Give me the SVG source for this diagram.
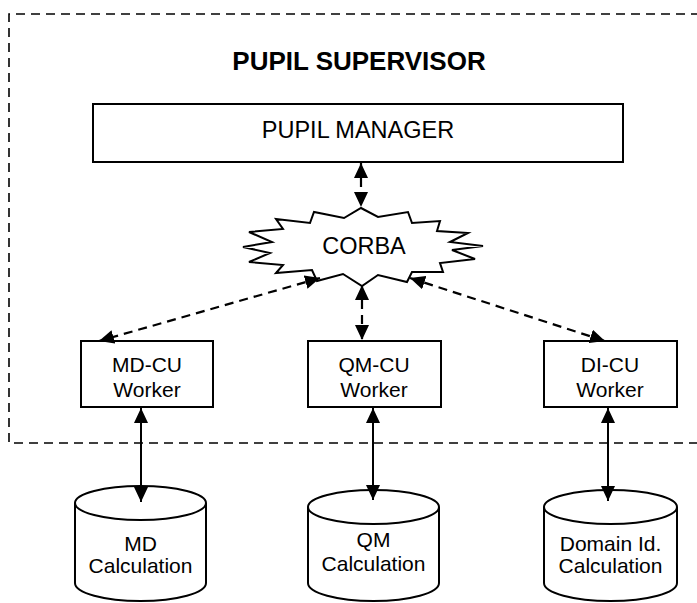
<svg xmlns="http://www.w3.org/2000/svg" width="697" height="603" viewBox="0 0 697 603">
<style>
text{font-family:"Liberation Sans",Arial,sans-serif;fill:#000;text-anchor:middle}
.box{fill:#fff;stroke:#000;stroke-width:2}
.lbl{font-size:21px}
.big{font-size:23.5px}
.title{font-size:26px;font-weight:bold}
.dash{fill:none;stroke:#000;stroke-width:2.2;stroke-dasharray:9 6}
.solid{fill:none;stroke:#000;stroke-width:2}
.border{fill:none;stroke:#000;stroke-width:1.6;stroke-dasharray:9 6}
</style>
<defs>
<marker id="ah" markerUnits="userSpaceOnUse" markerWidth="16" markerHeight="14" refX="15" refY="7" orient="auto-start-reverse">
<path d="M0,0 L15,7 L0,14 z" fill="#000"/>
</marker>
</defs>
<rect width="697" height="603" fill="#fff"/>
<g id="supervisor">
<polyline class="border" points="700,14 9,14 9,443 700,443"/>
<text class="title" x="359" y="70">PUPIL SUPERVISOR</text>
</g>
<g id="manager">
<rect class="box" x="93" y="104" width="530" height="58"/>
<text class="big" x="358" y="138">PUPIL MANAGER</text>
</g>
<g id="corba">
<polygon class="box" points="361,208 378,217 408,212 412,223 440,221 437,231 468,233 450,242 483,246 452,250 475,259 440,263 443,272 412,272 407,282 378,275 362,286 343,274 317,281 312,270 276,273 283,265 249,262 270,253 243,247 272,242 249,232 283,229 276,219 310,223 314,212 344,218"/>
<text class="big" x="364" y="254">CORBA</text>
</g>
<g id="mdcu">
<rect class="box" x="81" y="341" width="132" height="66"/>
<text class="lbl" x="147" y="372">MD-CU</text>
<text class="lbl" x="147" y="397">Worker</text>
</g>
<g id="qmcu">
<rect class="box" x="308" y="341" width="133" height="66"/>
<text class="lbl" x="374" y="372">QM-CU</text>
<text class="lbl" x="374" y="397">Worker</text>
</g>
<g id="dicu">
<rect class="box" x="544" y="341" width="133" height="66"/>
<text class="lbl" x="610" y="372">DI-CU</text>
<text class="lbl" x="610" y="397">Worker</text>
</g>
<g id="md-calc">
<path class="box" d="M75,503 A65.5,17 0 0 1 206,503 L206,583 A65.5,18 0 0 1 75,583 Z"/>
<path class="solid" d="M75,503 A65.5,17 0 0 0 206,503"/>
<text class="lbl" x="140.5" y="551">MD</text>
<text class="lbl" x="140.5" y="573">Calculation</text>
</g>
<g id="qm-calc">
<path class="box" d="M308,507 A65.5,17 0 0 1 439,507 L439,583 A65.5,18 0 0 1 308,583 Z"/>
<path class="solid" d="M308,507 A65.5,17 0 0 0 439,507"/>
<text class="lbl" x="373.5" y="547">QM</text>
<text class="lbl" x="373.5" y="571">Calculation</text>
</g>
<g id="di-calc">
<path class="box" d="M544,507 A66.5,17 0 0 1 677,507 L677,583 A66.5,18 0 0 1 544,583 Z"/>
<path class="solid" d="M544,507 A66.5,17 0 0 0 677,507"/>
<text class="lbl" x="610.5" y="551">Domain Id.</text>
<text class="lbl" x="610.5" y="573">Calculation</text>
</g>
<g id="connectors">
<line class="dash" x1="361" y1="163" x2="361" y2="207" marker-start="url(#ah)" marker-end="url(#ah)"/>
<line class="dash" x1="320" y1="278" x2="99" y2="341" marker-start="url(#ah)" marker-end="url(#ah)"/>
<line class="dash" x1="362" y1="285" x2="362" y2="340" marker-start="url(#ah)" marker-end="url(#ah)"/>
<line class="dash" x1="410" y1="278" x2="605" y2="341" marker-start="url(#ah)" marker-end="url(#ah)"/>
<line class="solid" x1="141" y1="408" x2="141" y2="502" marker-start="url(#ah)" marker-end="url(#ah)"/>
<line class="solid" x1="373" y1="408" x2="373" y2="500" marker-start="url(#ah)" marker-end="url(#ah)"/>
<line class="solid" x1="608" y1="408" x2="608" y2="501" marker-start="url(#ah)" marker-end="url(#ah)"/>
</g>
</svg>
